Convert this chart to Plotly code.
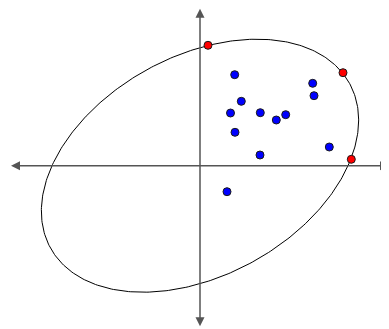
import numpy as np
import plotly.graph_objects as go

# Blue data points (x, y)
blue_x = [3.47, 11.27, 11.40, 4.13, 3.05, 6.03, 7.63, 8.57, 3.50, 12.93, 6.00, 2.70]
blue_y = [9.10, 8.24, 7.00, 6.44, 5.27, 5.30, 4.57, 5.10, 3.34, 1.87, 1.07, -2.60]

# Red points lying on the ellipse
red_x = [0.80, 14.30, 15.13]
red_y = [12.04, 9.30, 0.64]

# Ellipse parameters (center, semi-axes, rotation in degrees)
ell_center = (0.0, 0.0)
ell_a = 17.07
ell_b = 10.97
ell_angle = 28.8

# Axis extents (arrow ends)
x_axis_ends = [-19.05, 18.9]
y_axis_ends = [15.7, -16.2]

t = np.linspace(0, 2 * np.pi, 400)
th = np.deg2rad(ell_angle)
ex = ell_center[0] + ell_a * np.cos(t) * np.cos(th) - ell_b * np.sin(t) * np.sin(th)
ey = ell_center[1] + ell_a * np.cos(t) * np.sin(th) + ell_b * np.sin(t) * np.cos(th)

fig = go.Figure()
fig.add_trace(go.Scatter(x=ex, y=ey, mode="lines",
                         line=dict(color="black", width=1), hoverinfo="skip"))
fig.add_trace(go.Scatter(x=blue_x, y=blue_y, mode="markers",
                         marker=dict(color="#0000ff", size=8,
                                     line=dict(color="#1a1a1a", width=1))))
fig.add_trace(go.Scatter(x=red_x, y=red_y, mode="markers",
                         marker=dict(color="#ff0000", size=8,
                                     line=dict(color="#1a1a1a", width=1))))

axis_col = "#555555"
fig.add_annotation(x=x_axis_ends[1], y=0, ax=x_axis_ends[0], ay=0,
                   xref="x", yref="y", axref="x", ayref="y", text="",
                   showarrow=True, arrowhead=2, arrowside="end+start",
                   arrowsize=1.2, arrowwidth=1.5, arrowcolor=axis_col, standoff=0,
                   startstandoff=0, startarrowhead=2, startarrowsize=1.2)
fig.add_annotation(x=0, y=y_axis_ends[0], ax=0, ay=y_axis_ends[1],
                   xref="x", yref="y", axref="x", ayref="y", text="",
                   showarrow=True, arrowhead=2, arrowside="end+start",
                   arrowsize=1.2, arrowwidth=1.5, arrowcolor=axis_col, standoff=0,
                   startstandoff=0, startarrowhead=2, startarrowsize=1.2)

fig.update_layout(width=381, height=321, margin=dict(l=0, r=0, t=0, b=0),
                  paper_bgcolor="white", plot_bgcolor="white", showlegend=False,
                  xaxis=dict(range=[-19.2, 18.9], visible=False, fixedrange=True),
                  yaxis=dict(range=[-16.33, 15.77], visible=False, fixedrange=True))
fig.write_html("out.html")
